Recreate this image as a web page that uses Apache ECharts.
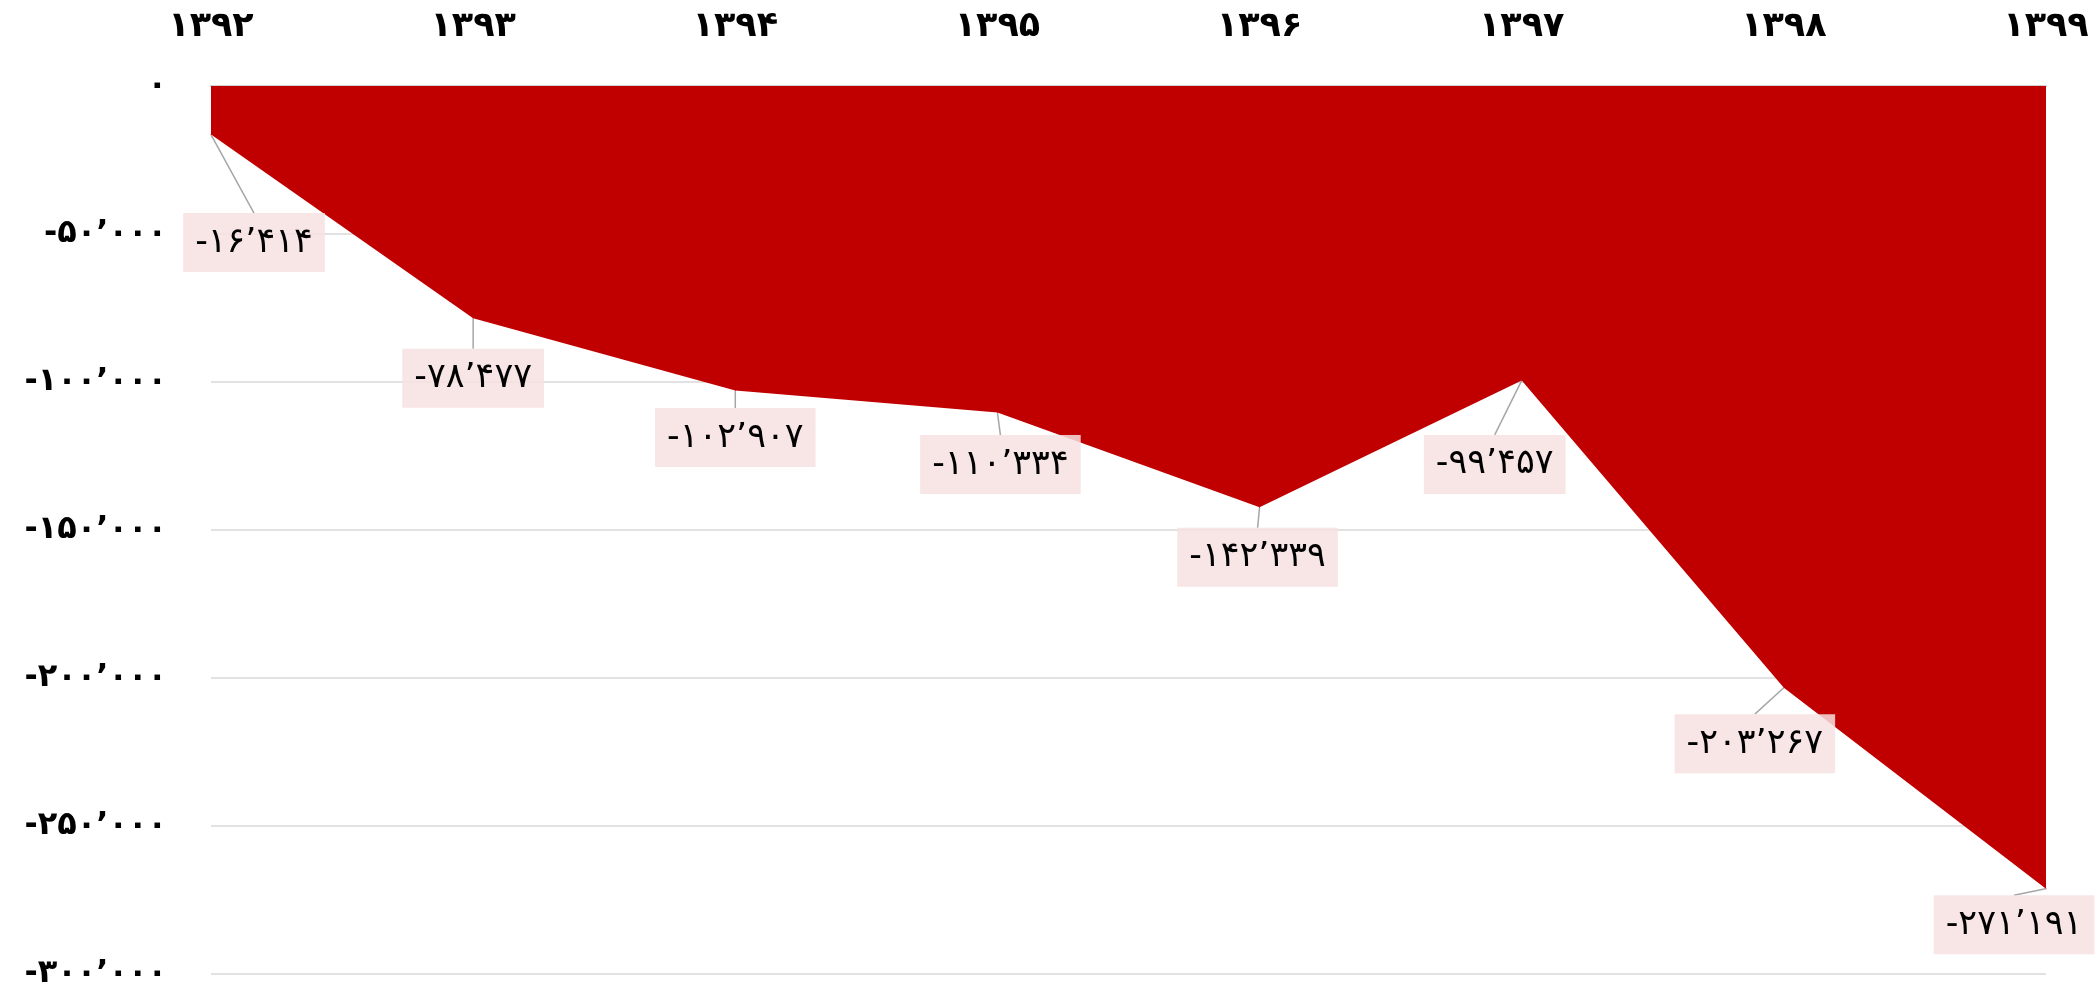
<!DOCTYPE html>
<html>
<head>
<meta charset="utf-8">
<script src="https://cdn.jsdelivr.net/npm/echarts@6/dist/echarts.min.js"></script>
<style>
  html, body { margin: 0; padding: 0; background: #fff; }
  #main { width: 2097px; height: 990px; }
</style>
</head>
<body>
<div id="main"></div>
<script>
var years = ['۱۳۹۲', '۱۳۹۳', '۱۳۹۴', '۱۳۹۵', '۱۳۹۶', '۱۳۹۷', '۱۳۹۸', '۱۳۹۹'];
var values = [-16414, -78477, -102907, -110334, -142339, -99457, -203267, -271191];
// label offsets (px) from each point, to mimic the hand-placed boxes
var labelDx = [43, 0, 0, 3, -2, -27, -29, -32];
var labelDy = [108, 60, 47, 52, 50, 84, 56, 36];

function toFa(n) {
    var digits = '۰۱۲۳۴۵۶۷۸۹';
    var s = Math.abs(n).toString().replace(/\B(?=(\d{3})+(?!\d))/g, '٬');
    s = s.replace(/\d/g, function (d) { return digits[+d]; });
    return (n < 0 ? '-' : '') + s;
}

var myChart = echarts.init(document.getElementById('main'));
var option = {
    backgroundColor: '#ffffff',
    animation: false,
    grid: { left: 211, right: 51, top: 86, bottom: 11, containLabel: false },
    xAxis: {
        type: 'category',
        position: 'top',
        boundaryGap: false,
        data: years,
        axisLine: { show: true, lineStyle: { color: '#d0d0d0', width: 2 } },
        axisTick: { show: false },
        axisLabel: {
            margin: 42,
            fontSize: 35,
            fontWeight: 'bold',
            color: '#000',
            fontFamily: 'DejaVu Sans'
        }
    },
    yAxis: {
        type: 'value',
        min: -300000,
        max: 0,
        interval: 50000,
        axisLine: { show: false },
        axisTick: { show: false },
        splitLine: { lineStyle: { color: '#d9d9d9', width: 1.5 } },
        axisLabel: {
            margin: 44,
            fontSize: 32,
            fontWeight: 'bold',
            color: '#000',
            fontFamily: 'DejaVu Sans',
            formatter: function (v) { return toFa(v); }
        }
    },
    series: [{
        type: 'line',
        data: values,
        symbol: 'circle',
        symbolSize: 1,
        showSymbol: true,
        itemStyle: { color: '#c00000' },
        lineStyle: { width: 0, color: '#c00000' },
        areaStyle: { color: '#c00000', opacity: 1 },
        label: {
            show: true,
            position: 'inside',
            formatter: function (p) { return toFa(p.value); },
            fontSize: 35,
            color: '#000',
            fontFamily: 'DejaVu Sans',
            backgroundColor: 'rgba(247, 224, 224, 0.85)',
            padding: [12, 12]
        },
        labelLine: {
            show: true,
            lineStyle: { color: '#a6a6a6', width: 1.5 }
        },
        labelLayout: function (params) {
            return {
                dx: labelDx[params.dataIndex],
                dy: labelDy[params.dataIndex]
            };
        },
        z: 2
    }]
};
myChart.setOption(option);
</script>
</body>
</html>
